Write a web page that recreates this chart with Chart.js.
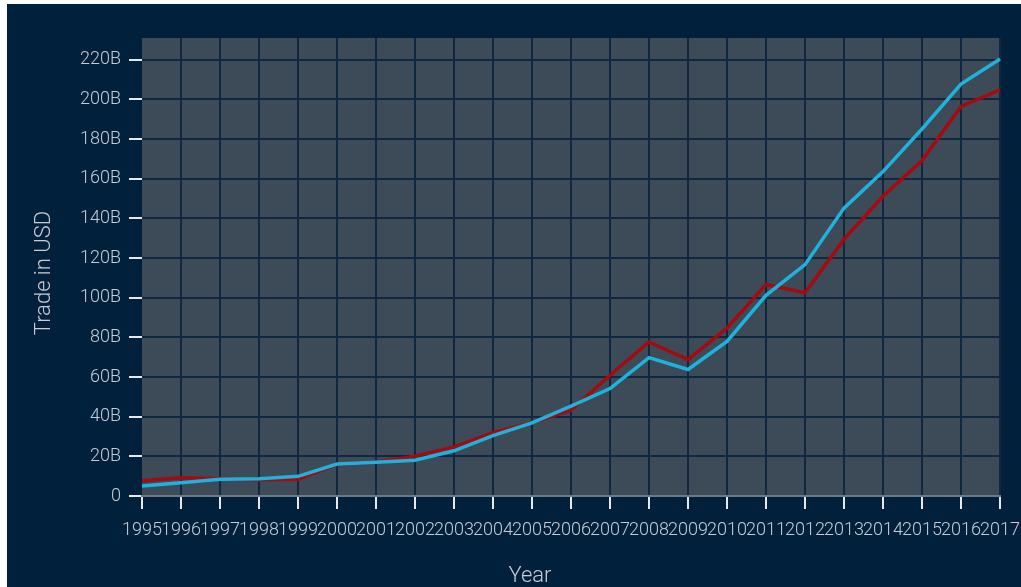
<!DOCTYPE html>
<html>
<head>
<meta charset="utf-8">
<script src="https://cdn.jsdelivr.net/npm/chart.js@4/dist/chart.umd.min.js"></script>
<style>
  html, body { margin: 0; padding: 0; background: #ffffff; }
  #wrap {
    position: absolute;
    left: 7px;
    top: 4px;
    width: 1014px;
    height: 583px;
    background: #00203b;
  }
</style>
</head>
<body>
<div id="wrap"><canvas id="tradeChart"></canvas></div>
<script>
const years = ["1995", "1996", "1997", "1998", "1999", "2000", "2001", "2002", "2003", "2004", "2005", "2006",
  "2007", "2008", "2009", "2010", "2011", "2012", "2013", "2014", "2015", "2016", "2017"];

// trade values in billions of USD
const seriesRed = [7.7, 9.2, 8.7, 8.2, 8.4, 16.0, 17.2, 20.1, 24.8, 32.0, 37.0, 43.3,
  60.9, 77.7, 68.8, 84.7, 106.7, 102.5, 129.4, 151.2, 169.2, 196.5, 204.8];
const seriesBlue = [5.0, 6.7, 8.4, 8.7, 9.9, 16.1, 17.0, 18.0, 22.8, 30.5, 36.9, 45.3,
  54.2, 69.8, 63.8, 78.0, 101.2, 116.7, 145.2, 163.6, 185.1, 207.8, 220.4];

const yTicks = [0, 20, 40, 60, 80, 100, 120, 140, 160, 180, 200, 220];

const fontFamily = "Roboto, 'Liberation Sans', sans-serif";
const textColor = "#c7ccd2";
const gridColor = "#0f2741";

// plot background + axis titles
const backdrop = {
  id: "backdrop",
  beforeDraw(chart) {
    const { ctx, chartArea: a } = chart;
    ctx.save();
    ctx.fillStyle = "#3d4a58";
    ctx.fillRect(a.left, a.top, a.right - a.left, a.bottom - a.top);
    ctx.restore();
  },
  afterDraw(chart) {
    const { ctx, chartArea: a } = chart;
    ctx.save();
    ctx.fillStyle = textColor;
    ctx.font = "300 22px " + fontFamily;
    ctx.textAlign = "center";
    ctx.textBaseline = "middle";
    ctx.translate(a.left - 98, (a.top + a.bottom) / 2 + 6);
    ctx.rotate(-Math.PI / 2);
    ctx.fillText("Trade in USD", 0, 0);
    ctx.restore();

    ctx.save();
    ctx.fillStyle = textColor;
    ctx.font = "300 22px " + fontFamily;
    ctx.textAlign = "center";
    ctx.textBaseline = "middle";
    ctx.fillText("Year", (a.left + a.right) / 2 - 41, a.bottom + 80);
    ctx.restore();
  }
};

new Chart(document.getElementById("tradeChart"), {
  type: "line",
  data: {
    labels: years,
    datasets: [
      {
        label: "Blue",
        data: seriesBlue,
        borderColor: "#1fb2dc",
        borderWidth: 3.5,
        pointRadius: 0,
        tension: 0,
      },
      {
        label: "Red",
        data: seriesRed,
        borderColor: "#a30b10",
        borderWidth: 3.5,
        pointRadius: 0,
        tension: 0,
      },
    ],
  },
  options: {
    responsive: true,
    maintainAspectRatio: false,
    animation: false,
    layout: { padding: { top: 34, right: 21, bottom: 0, left: 0 } },
    plugins: {
      legend: { display: false },
      tooltip: { enabled: false },
    },
    scales: {
      x: {
        afterFit(scale) {
          scale.height = 91;
          scale.paddingLeft = 0;
          scale.paddingRight = 0;
        },
        grid: {
          color: (c) => (c.index === 0 ? "rgba(0,0,0,0)" : gridColor),
          lineWidth: 2,
          tickColor: "#e6e8ea",
          tickLength: 13,
          tickWidth: 2,
        },
        border: { display: true, color: "#6e7782", width: 2 },
        ticks: {
          color: textColor,
          font: { family: fontFamily, size: 18, weight: "300" },
          padding: 11,
          maxRotation: 0,
          minRotation: 0,
          autoSkip: false,
        },
      },
      y: {
        min: 0,
        max: 231,
        afterFit(scale) {
          scale.width = 135;
          scale.paddingTop = 0;
          scale.paddingBottom = 0;
        },
        afterBuildTicks(scale) { scale.ticks = yTicks.map((v) => ({ value: v })); },
        grid: {
          color: gridColor,
          lineWidth: 2,
          tickColor: "#e6e8ea",
          tickLength: 13,
          tickWidth: 2,
        },
        border: { display: false },
        ticks: {
          color: textColor,
          font: { family: fontFamily, size: 18, weight: "300" },
          padding: 8,
          callback: (v) => (v === 0 ? "0" : v + "B"),
        },
      },
    },
  },
  plugins: [backdrop],
});
</script>
</body>
</html>
